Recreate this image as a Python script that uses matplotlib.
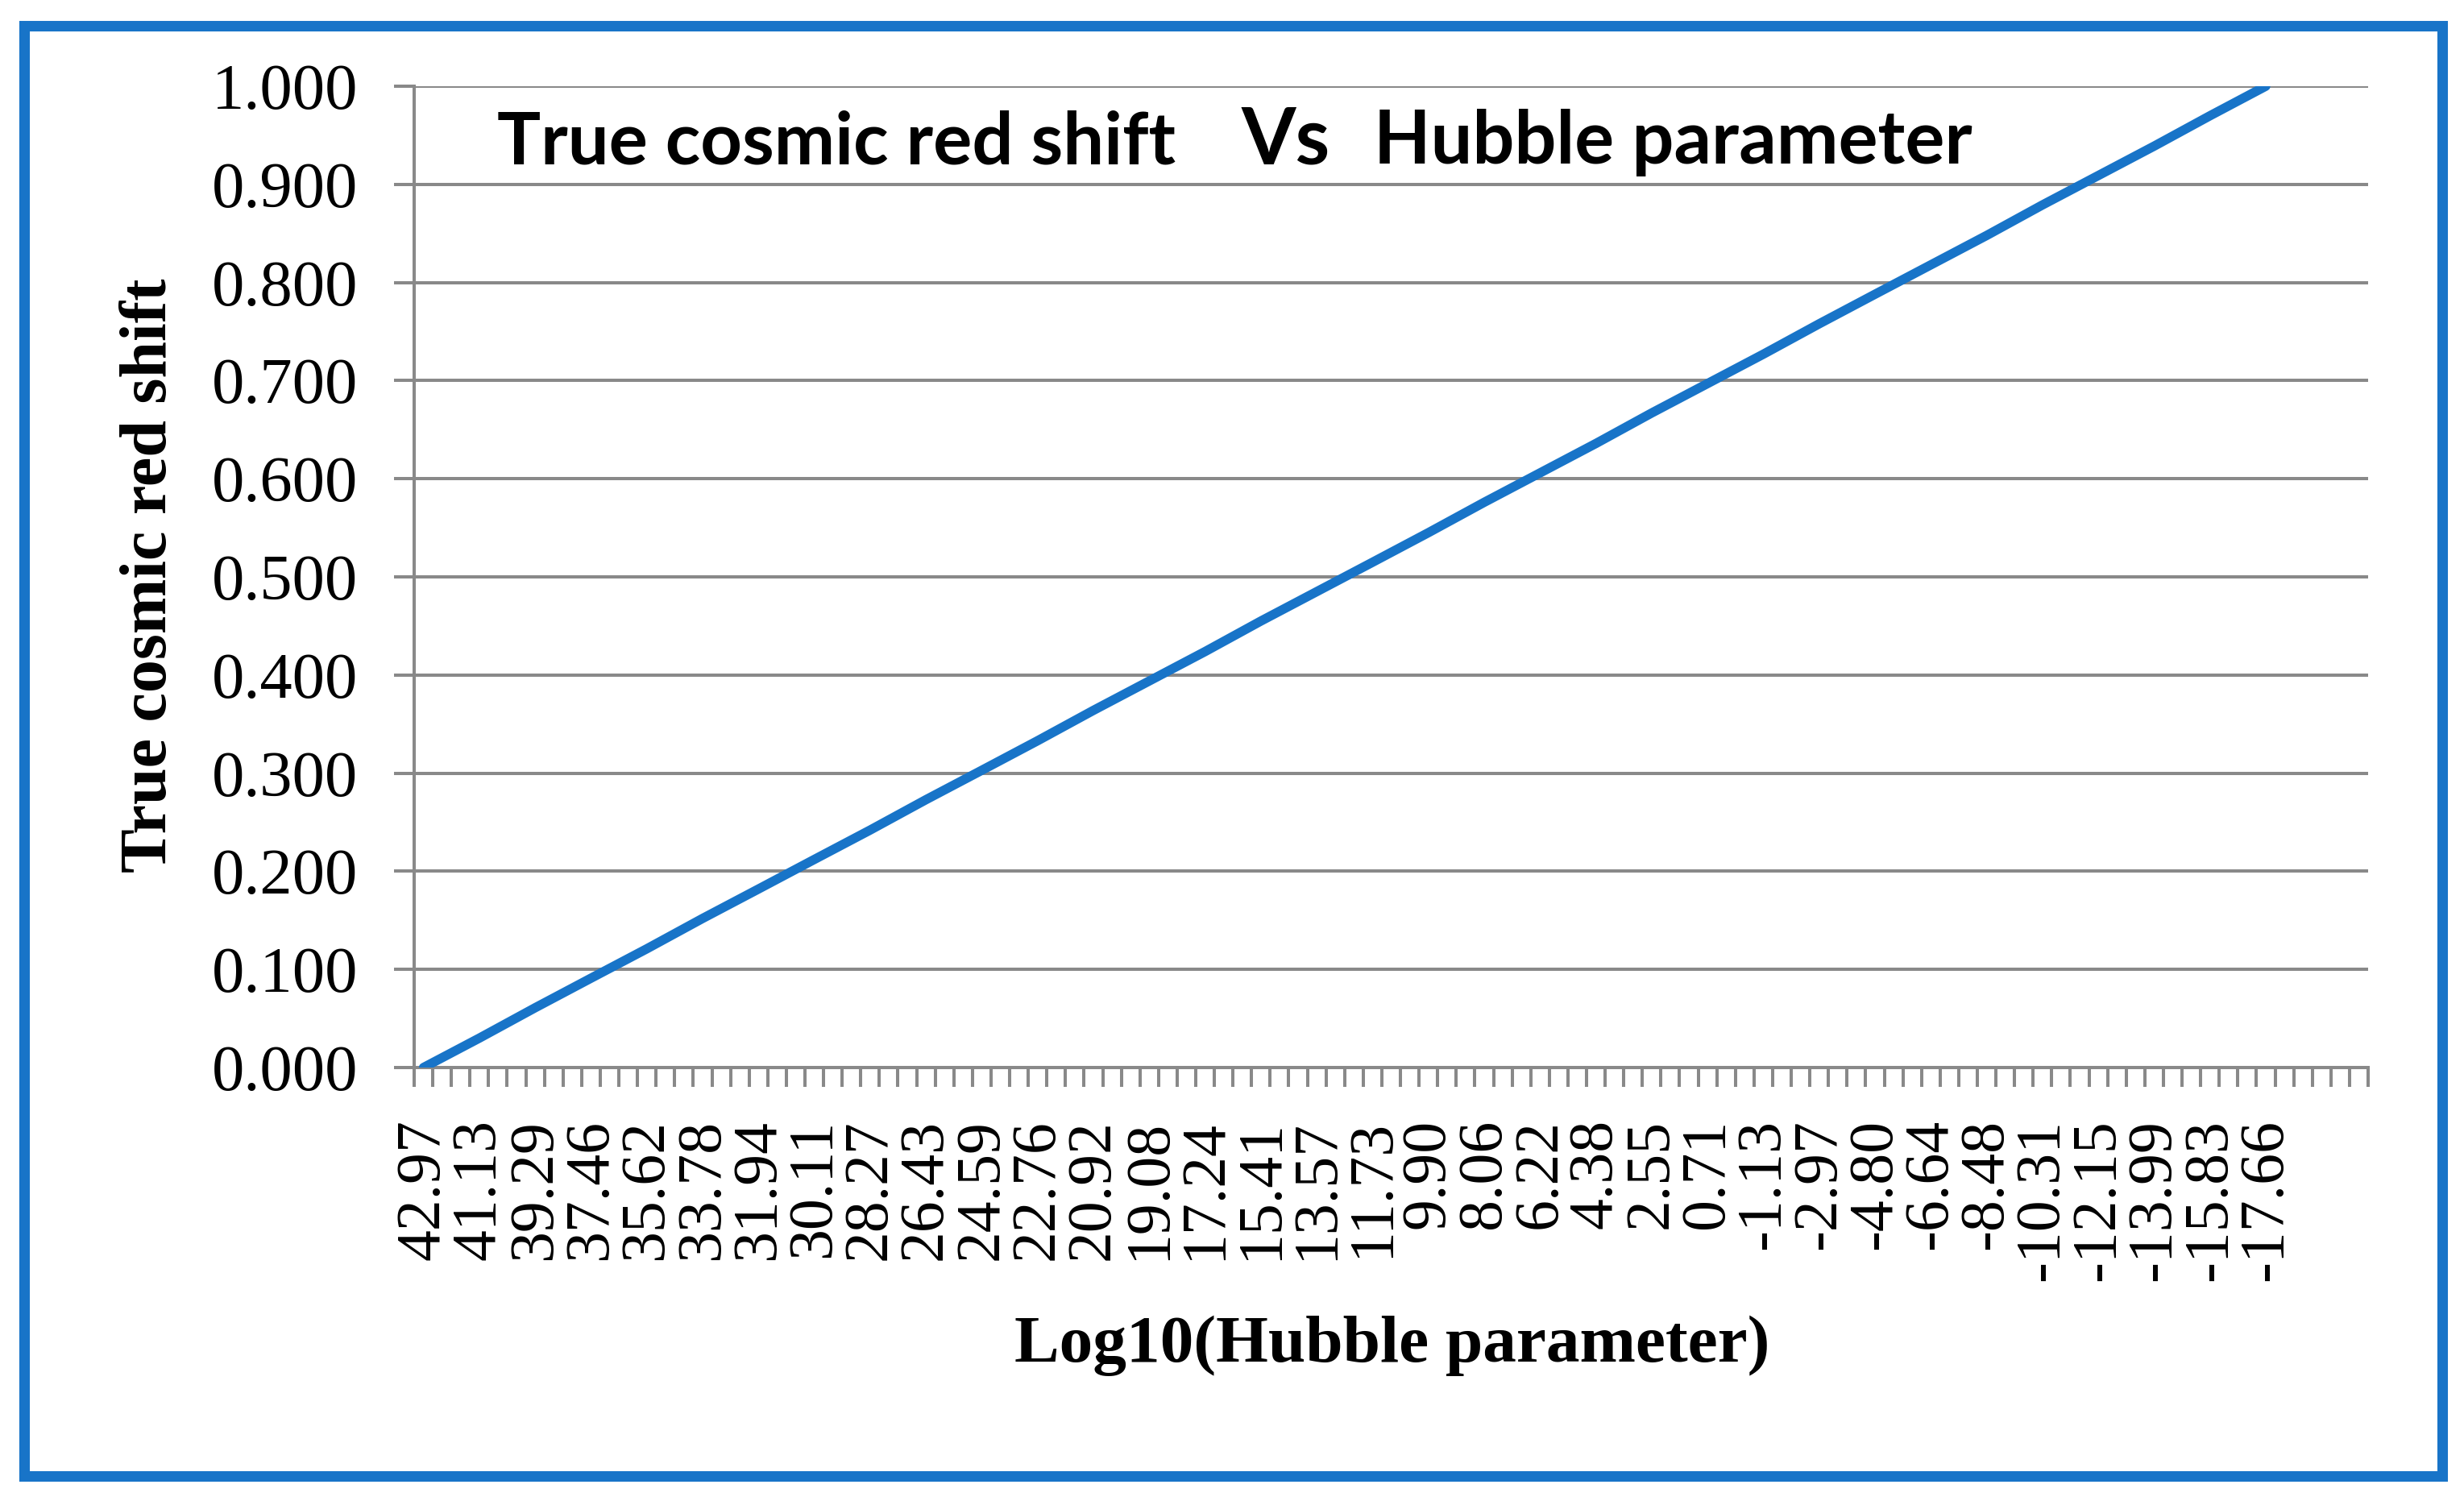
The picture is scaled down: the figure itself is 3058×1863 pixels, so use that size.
import numpy as np
import matplotlib
matplotlib.use('Agg')
import matplotlib.pyplot as plt
from matplotlib.patches import Rectangle

# labelled categories on the x axis (every third category carries a label)
hubble_log = [42.97, 41.13, 39.29, 37.46, 35.62, 33.78, 31.94, 30.11, 28.27,
              26.43, 24.59, 22.76, 20.92, 19.08, 17.24, 15.41, 13.57, 11.73,
              9.90, 8.06, 6.22, 4.38, 2.55, 0.71, -1.13, -2.97, -4.80, -6.64,
              -8.48, -10.31, -12.15, -13.99, -15.83, -17.66]
red_shift = [0.000, 0.030, 0.061, 0.091, 0.121, 0.152, 0.182, 0.212, 0.242,
             0.273, 0.303, 0.333, 0.364, 0.394, 0.424, 0.455, 0.485, 0.515,
             0.545, 0.576, 0.606, 0.636, 0.667, 0.697, 0.727, 0.758, 0.788,
             0.818, 0.848, 0.879, 0.909, 0.939, 0.970, 1.000]
y_ticks = [0.0, 0.1, 0.2, 0.3, 0.4, 0.5, 0.6, 0.7, 0.8, 0.9, 1.0]

n_categories = 105
per_label = 3

blue = '#1874c8'
grey = '#898989'
serif = ['Liberation Serif', 'DejaVu Serif']

W, H = 3058, 1863
fig = plt.figure(figsize=(W / 100, H / 100), dpi=100)
fig.patch.set_facecolor('white')

ax = fig.add_axes([514 / W, 1 - 1325 / H, (2939 - 514) / W, (1325 - 107) / H])

ax.plot(hubble_log, red_shift, color=blue, linewidth=8.3,
        solid_capstyle='round', zorder=3)

step = (hubble_log[0] - hubble_log[-1]) / (per_label * (len(hubble_log) - 1))
left = hubble_log[0] + step / 2
right = left - step * n_categories
ax.set_xlim(left, right)
ax.set_ylim(0, 1)

ax.set_xticks(hubble_log)
ax.set_xticklabels([f'{v:.2f}' for v in hubble_log], rotation=90,
                   family=serif, fontsize=56)
ax.set_xticks(left - step * np.arange(n_categories + 1), minor=True)
ax.tick_params(axis='x', which='major', length=0, pad=46)
ax.tick_params(axis='x', which='minor', length=17, width=2.9, color=grey,
               direction='out')

ax.set_yticks(y_ticks)
ax.set_yticklabels([f'{v:.3f}' for v in y_ticks], family=serif, fontsize=58)
ax.tick_params(axis='y', length=18, width=2.9, color=grey, pad=32)

ax.grid(axis='y', color=grey, linewidth=2.9)
ax.set_axisbelow(True)
for side in ['top', 'right']:
    ax.spines[side].set_visible(False)
for side in ['left', 'bottom']:
    ax.spines[side].set_color(grey)
    ax.spines[side].set_linewidth(2.9)

fig.text(187 / W, 1 - 714 / H, 'True cosmic red shift', rotation=90,
         ha='center', va='center', family=serif, fontweight='bold', fontsize=59)
fig.text(1728 / W, 1 - 1670 / H, 'Log10(Hubble parameter)',
         ha='center', va='center', family=serif, fontweight='bold', fontsize=60)

title_y = 1 - 203 / H
fig.text(617 / W, title_y, 'True cosmic red shift', ha='left', va='baseline',
         family='Lato', fontweight='bold', fontsize=65)
fig.text(1541 / W, title_y, 'Vs', ha='left', va='baseline',
         family='Lato', fontweight='bold', fontsize=70)
fig.text(1705 / W, title_y, 'Hubble parameter', ha='left', va='baseline',
         family='Lato', fontweight='bold', fontsize=66)

fig.patches.append(Rectangle((30.5 / W, 31.5 / H), (3031 - 30.5) / W,
                             (1831.5 - 31.5) / H, transform=fig.transFigure,
                             fill=False, edgecolor=blue, linewidth=9.4,
                             joinstyle='miter'))

fig.savefig('out.png', dpi=100)
